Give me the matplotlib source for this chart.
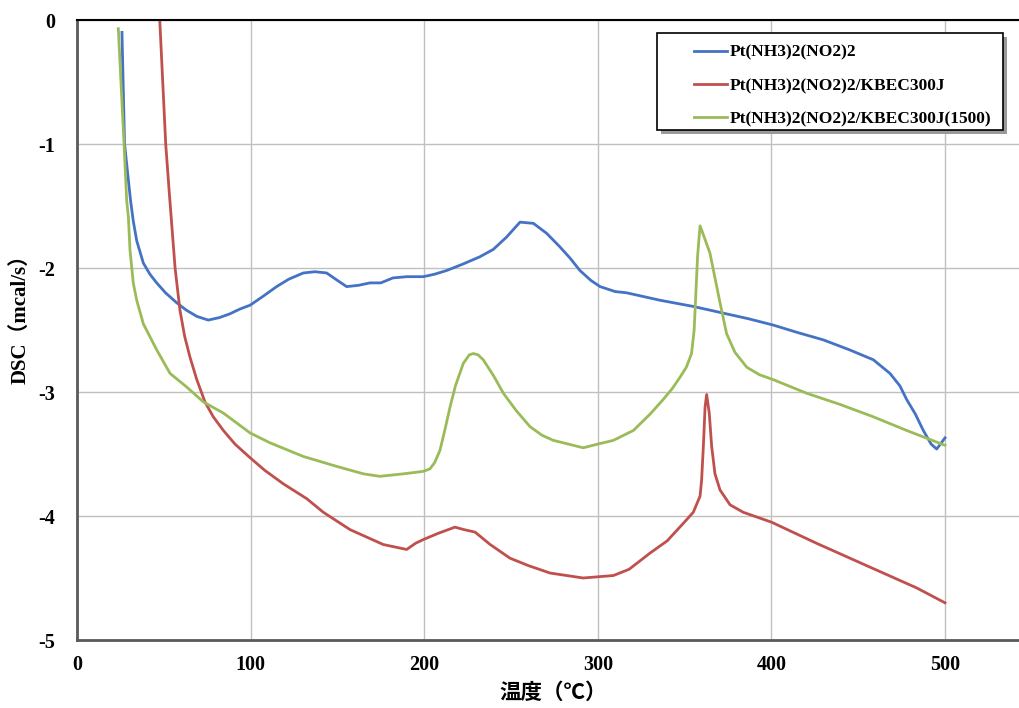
import matplotlib
matplotlib.use('Agg')
import matplotlib.pyplot as plt
from matplotlib.patches import Rectangle

# DSC curves (temperature degC, mcal/s)
blueT = [25.9, 27.4, 30.8, 32.4, 34.4, 38.2, 42.0, 45.9, 51.0, 57.4, 63.0, 69.0, 75.6, 82.0, 88.0,
         94.0, 99.7, 107.0, 115.0, 122.0, 130.4, 137.0, 143.8, 150.0, 155.3, 162.0, 168.8, 175.0,
         182.0, 190.0, 199.5, 206.0, 213.0, 222.0, 232.0, 239.8, 247.5, 255.2, 262.9, 270.5, 278.2,
         284.0, 289.7, 296.0, 301.3, 310.0, 316.6, 335.8, 355.0, 374.2, 387.0, 401.0, 415.0, 430.0,
         445.0, 458.7, 468.3, 474.0, 477.9, 483.0, 487.5, 492.0, 495.2, 500.0]
blueY = [-0.10, -1.00, -1.45, -1.62, -1.78, -1.96, -2.05, -2.12, -2.20, -2.28, -2.34, -2.39, -2.42, -2.40, -2.37,
         -2.33, -2.30, -2.23, -2.15, -2.09, -2.04, -2.03, -2.04, -2.10, -2.15, -2.14, -2.12, -2.12,
         -2.08, -2.07, -2.07, -2.05, -2.02, -1.97, -1.91, -1.85, -1.75, -1.63, -1.64, -1.72, -1.83,
         -1.92, -2.02, -2.10, -2.15, -2.19, -2.20, -2.26, -2.31, -2.37, -2.41, -2.46, -2.52, -2.58,
         -2.66, -2.74, -2.85, -2.95, -3.06, -3.18, -3.31, -3.42, -3.46, -3.37]

redT = [47.5, 51.1, 53.2, 56.5, 59.3, 62.0, 65.1, 69.0, 73.7, 78.5, 84.3, 91.0, 99.7, 108.0, 118.8,
        132.3, 141.9, 157.3, 176.4, 189.9, 195.0, 199.5, 208.0, 217.7, 223.0, 229.3, 238.0, 249.4,
        260.0, 272.5, 291.6, 309.0, 318.0, 330.0, 340.0, 349.2, 355.0, 358.9, 359.8, 360.8, 361.8,
        362.7, 364.2, 365.6, 367.5, 370.4, 376.2, 383.8, 400.1, 426.0, 454.8, 483.7, 500.0]
redY = [0.05, -1.00, -1.40, -2.00, -2.34, -2.55, -2.72, -2.90, -3.08, -3.20, -3.31, -3.42, -3.53, -3.63, -3.74,
        -3.86, -3.97, -4.11, -4.23, -4.27, -4.22, -4.19, -4.14, -4.09, -4.11, -4.13, -4.23, -4.34,
        -4.40, -4.46, -4.50, -4.48, -4.43, -4.30, -4.20, -4.06, -3.97, -3.84, -3.71, -3.44, -3.12,
        -3.02, -3.17, -3.44, -3.66, -3.79, -3.91, -3.97, -4.05, -4.22, -4.40, -4.58, -4.70]

greenT = [23.8, 27.1, 28.6, 29.6, 30.5, 32.4, 34.4, 38.2, 45.9, 53.6, 63.2, 72.8, 84.3, 99.7, 111.2,
          130.4, 149.6, 165.0, 174.5, 188.0, 199.5, 203.3, 206.0, 209.1, 212.0, 214.9, 218.0, 222.5,
          226.0, 228.3, 231.0, 234.0, 240.0, 245.6, 253.0, 261.0, 268.0, 274.4, 283.0, 291.6, 300.0,
          309.0, 320.5, 330.0, 337.7, 343.0, 347.4, 351.0, 354.0, 355.5, 356.5, 357.5, 358.9, 360.5,
          364.6, 367.5, 370.4, 374.2, 379.0, 385.8, 393.0, 401.0, 420.3, 439.5, 458.7, 477.9, 500.0]
greenY = [-0.07, -1.00, -1.45, -1.59, -1.85, -2.12, -2.26, -2.45, -2.66, -2.85, -2.96, -3.08, -3.17, -3.33, -3.41,
          -3.52, -3.60, -3.66, -3.68, -3.66, -3.64, -3.62, -3.57, -3.47, -3.30, -3.12, -2.95, -2.77,
          -2.70, -2.69, -2.70, -2.74, -2.87, -3.01, -3.15, -3.28, -3.35, -3.39, -3.42, -3.45, -3.42,
          -3.39, -3.31, -3.18, -3.06, -2.97, -2.88, -2.80, -2.69, -2.50, -2.20, -1.90, -1.66, -1.72,
          -1.88, -2.08, -2.28, -2.53, -2.68, -2.80, -2.86, -2.90, -3.01, -3.10, -3.20, -3.31, -3.43]

labels = ['Pt(NH3)2(NO2)2', 'Pt(NH3)2(NO2)2/KBEC300J', 'Pt(NH3)2(NO2)2/KBEC300J(1500)']
xTicks = [0, 100, 200, 300, 400, 500]
yTicks = [0, -1, -2, -3, -4, -5]

serif = ['Liberation Serif', 'Noto Sans CJK JP']
W, H = 1019, 708

fig = plt.figure(figsize=(W/100, H/100), dpi=100)
ax = fig.add_axes([77/W, 1-640/H, 954.8/W, 620/H])

ax.plot(blueT, blueY, color='#4472C4', lw=2.0, label=labels[0])
ax.plot(redT, redY, color='#C0504D', lw=2.0, label=labels[1])
ax.plot(greenT, greenY, color='#9BBB59', lw=2.0, label=labels[2])

ax.set_xlim(0, 550)
ax.set_ylim(-5, 0)
ax.set_xticks(xTicks)
ax.set_yticks(yTicks)
ax.set_xticklabels([str(v) for v in xTicks], fontfamily='Liberation Serif', fontweight='bold', fontsize=14.5)
ax.set_yticklabels([str(v) for v in yTicks], fontfamily='Liberation Serif', fontweight='bold', fontsize=14.5)
ax.tick_params(length=0, pad=11)
ax.tick_params(axis='y', pad=16)
ax.grid(True, color='#c0c0c0', lw=1)
ax.set_axisbelow(True)

ax.spines['top'].set_color('black')
ax.spines['top'].set_linewidth(1.5)
for s in ['left', 'bottom']:
    ax.spines[s].set_color('#5a5a5a')
    ax.spines[s].set_linewidth(2)
ax.spines['right'].set_visible(False)

fig.text(553/W, 1-692/H, '温度（℃）', family='Noto Sans CJK JP', fontweight='bold',
         fontsize=15.5, ha='center', va='center')
fig.text(21/W, 1-314/H, 'DSC（mcal/s）', family=serif, fontweight='bold',
         fontsize=15, rotation=90, ha='center', va='center')

# legend box drawn by hand (wide left margin like the original)
bx0, by0, bx1, by1 = 657, 33, 1003, 130
fig.patches.append(Rectangle(((bx0+4)/W, 1-(by1+4)/H), (bx1-bx0)/W, (by1-by0)/H,
                             transform=fig.transFigure, facecolor='#9a9a9a', edgecolor='none', zorder=5))
fig.patches.append(Rectangle((bx0/W, 1-by1/H), (bx1-bx0)/W, (by1-by0)/H,
                             transform=fig.transFigure, facecolor='white', edgecolor='black', lw=1.2, zorder=6))

leg = fig.legend(loc='upper left', bbox_to_anchor=(685/W, 1-36/H), frameon=False, borderpad=0,
                 prop={'family': 'Liberation Serif', 'weight': 'bold', 'size': 12.5},
                 handlelength=1.9, labelspacing=0.98, handletextpad=0.15)
leg.set_zorder(7)

fig.savefig('out.png', dpi=100)
